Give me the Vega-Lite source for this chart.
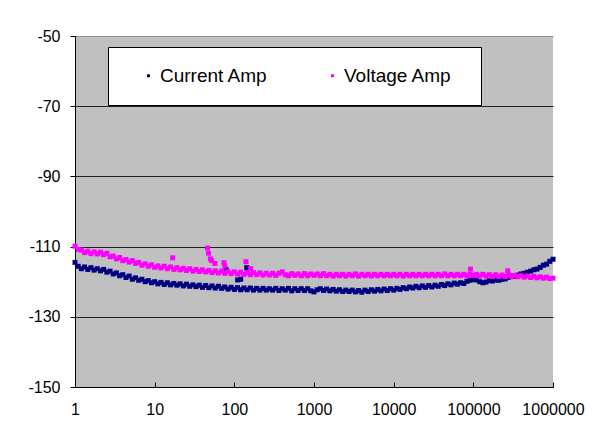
{
  "$schema": "https://vega.github.io/schema/vega-lite/v6.json",
  "width": 478,
  "height": 351,
  "autosize": {"type": "none"},
  "padding": {"left": 75, "top": 36, "right": 43, "bottom": 57},
  "background": "white",
  "config": {
    "font": "Liberation Sans",
    "view": {"fill": "#C0C0C0", "stroke": null}
  },
  "data": {
    "values": [
      {"f":1,"c":-114.5,"v":-109.9},
      {"f":1.096,"c":-115.6,"v":-110.8},
      {"f":1.202,"c":-116.3,"v":-111.0},
      {"f":1.318,"c":-115.8,"v":-111.7},
      {"f":1.445,"c":-116.5,"v":-111.3},
      {"f":1.585,"c":-116.0,"v":-112.0},
      {"f":1.738,"c":-116.7,"v":-111.5},
      {"f":1.905,"c":-116.3,"v":-112.1},
      {"f":2.089,"c":-116.9,"v":-111.6},
      {"f":2.291,"c":-116.5,"v":-112.3},
      {"f":2.512,"c":-117.3,"v":-111.9},
      {"f":2.754,"c":-117.0,"v":-112.9},
      {"f":3.02,"c":-117.8,"v":-112.7},
      {"f":3.311,"c":-117.5,"v":-113.5},
      {"f":3.631,"c":-118.3,"v":-113.1},
      {"f":3.981,"c":-118.0,"v":-114.0},
      {"f":4.365,"c":-118.8,"v":-113.7},
      {"f":4.786,"c":-118.4,"v":-114.4},
      {"f":5.248,"c":-119.3,"v":-114.0},
      {"f":5.754,"c":-118.9,"v":-114.8},
      {"f":6.31,"c":-119.6,"v":-114.5},
      {"f":6.918,"c":-119.3,"v":-115.3},
      {"f":7.586,"c":-120.0,"v":-114.9},
      {"f":8.318,"c":-119.7,"v":-115.6},
      {"f":9.12,"c":-120.3,"v":-115.2},
      {"f":10,"c":-120.0,"v":-115.9},
      {"f":10.96,"c":-120.6,"v":-115.5},
      {"f":12.02,"c":-120.2,"v":-116.1},
      {"f":13.18,"c":-120.8,"v":-115.6},
      {"f":14.45,"c":-120.3,"v":-116.3},
      {"f":15.85,"c":-120.9,"v":-115.8},
      {"f":17.38,"c":-120.5,"v":-116.5},
      {"f":19.05,"c":-121.0,"v":-116.0},
      {"f":20.89,"c":-120.6,"v":-116.6},
      {"f":22.91,"c":-121.2,"v":-116.2},
      {"f":25.12,"c":-120.7,"v":-116.8},
      {"f":27.54,"c":-121.3,"v":-116.3},
      {"f":30.2,"c":-120.9,"v":-117.0},
      {"f":33.11,"c":-121.4,"v":-116.5},
      {"f":36.31,"c":-121.0,"v":-117.1},
      {"f":39.81,"c":-121.6,"v":-116.6},
      {"f":43.65,"c":-121.1,"v":-117.2},
      {"f":47.86,"c":-121.7,"v":-116.8},
      {"f":52.48,"c":-121.2,"v":-117.4},
      {"f":57.54,"c":-121.8,"v":-116.9},
      {"f":63.1,"c":-121.3,"v":-117.5},
      {"f":69.18,"c":-121.9,"v":-117.0},
      {"f":75.86,"c":-121.5,"v":-117.6},
      {"f":83.18,"c":-122.1,"v":-117.1},
      {"f":91.2,"c":-121.6,"v":-117.7},
      {"f":100,"c":-122.2,"v":-117.2},
      {"f":109.6,"c":-121.7,"v":-117.8},
      {"f":120.2,"c":-122.3,"v":-117.3},
      {"f":131.8,"c":-121.8,"v":-117.9},
      {"f":144.5,"c":-122.3,"v":-117.4},
      {"f":158.5,"c":-121.8,"v":-118.0},
      {"f":173.8,"c":-122.4,"v":-117.4},
      {"f":190.5,"c":-121.9,"v":-118.0},
      {"f":208.9,"c":-122.4,"v":-117.5},
      {"f":229.1,"c":-121.9,"v":-118.1},
      {"f":251.2,"c":-122.4,"v":-117.6},
      {"f":275.4,"c":-122.0,"v":-118.1},
      {"f":302,"c":-122.4,"v":-117.6},
      {"f":331.1,"c":-121.9,"v":-118.2},
      {"f":363.1,"c":-122.5,"v":-117.6},
      {"f":398.1,"c":-122.0,"v":-117.2},
      {"f":436.5,"c":-122.4,"v":-118.0},
      {"f":478.6,"c":-121.9,"v":-118.3},
      {"f":524.8,"c":-122.6,"v":-117.7},
      {"f":575.4,"c":-122.0,"v":-118.2},
      {"f":631,"c":-122.5,"v":-117.8},
      {"f":691.8,"c":-122.0,"v":-118.3},
      {"f":758.6,"c":-122.5,"v":-117.7},
      {"f":831.8,"c":-122.0,"v":-118.3},
      {"f":912,"c":-122.6,"v":-117.8},
      {"f":1000,"c":-122.9,"v":-118.2},
      {"f":1096,"c":-122.3,"v":-117.8},
      {"f":1202,"c":-122.0,"v":-118.3},
      {"f":1318,"c":-122.5,"v":-117.7},
      {"f":1445,"c":-122.1,"v":-118.3},
      {"f":1585,"c":-122.6,"v":-117.9},
      {"f":1738,"c":-122.2,"v":-118.4},
      {"f":1905,"c":-122.7,"v":-117.9},
      {"f":2089,"c":-122.3,"v":-118.3},
      {"f":2291,"c":-122.8,"v":-117.9},
      {"f":2512,"c":-122.4,"v":-118.4},
      {"f":2754,"c":-122.8,"v":-117.9},
      {"f":3020,"c":-122.4,"v":-118.3},
      {"f":3311,"c":-122.9,"v":-117.8},
      {"f":3631,"c":-122.5,"v":-118.4},
      {"f":3981,"c":-123.0,"v":-117.9},
      {"f":4365,"c":-122.4,"v":-118.3},
      {"f":4786,"c":-122.8,"v":-117.9},
      {"f":5248,"c":-122.3,"v":-118.4},
      {"f":5754,"c":-122.7,"v":-117.9},
      {"f":6310,"c":-122.2,"v":-118.3},
      {"f":6918,"c":-122.6,"v":-117.9},
      {"f":7586,"c":-122.1,"v":-118.3},
      {"f":8318,"c":-122.5,"v":-117.9},
      {"f":9120,"c":-122.0,"v":-118.3},
      {"f":10000,"c":-122.4,"v":-117.9},
      {"f":10960,"c":-121.9,"v":-118.3},
      {"f":12020,"c":-122.2,"v":-117.9},
      {"f":13180,"c":-121.7,"v":-118.4},
      {"f":14450,"c":-122.0,"v":-117.9},
      {"f":15850,"c":-121.5,"v":-118.3},
      {"f":17380,"c":-121.8,"v":-117.9},
      {"f":19050,"c":-121.3,"v":-118.3},
      {"f":20890,"c":-121.7,"v":-117.9},
      {"f":22910,"c":-121.2,"v":-118.3},
      {"f":25120,"c":-121.6,"v":-117.9},
      {"f":27540,"c":-121.1,"v":-118.3},
      {"f":30200,"c":-121.5,"v":-117.9},
      {"f":33110,"c":-121.0,"v":-118.3},
      {"f":36310,"c":-121.3,"v":-117.9},
      {"f":39810,"c":-120.8,"v":-118.3},
      {"f":43650,"c":-121.1,"v":-117.8},
      {"f":47860,"c":-120.6,"v":-118.3},
      {"f":52480,"c":-120.9,"v":-117.9},
      {"f":57540,"c":-120.4,"v":-118.3},
      {"f":63100,"c":-120.7,"v":-117.9},
      {"f":69180,"c":-120.3,"v":-118.3},
      {"f":75860,"c":-120.5,"v":-117.9},
      {"f":83180,"c":-119.9,"v":-118.3},
      {"f":91200,"c":-119.6,"v":-117.9},
      {"f":100000,"c":-119.4,"v":-118.2},
      {"f":109600,"c":-119.5,"v":-117.9},
      {"f":120200,"c":-120.0,"v":-118.4},
      {"f":131800,"c":-120.3,"v":-117.9},
      {"f":144500,"c":-120.1,"v":-118.4},
      {"f":158500,"c":-119.7,"v":-118.0},
      {"f":173800,"c":-119.8,"v":-118.5},
      {"f":190500,"c":-119.5,"v":-118.0},
      {"f":208900,"c":-119.6,"v":-118.5},
      {"f":229100,"c":-119.3,"v":-118.1},
      {"f":251200,"c":-119.2,"v":-118.5},
      {"f":275400,"c":-118.8,"v":-118.1},
      {"f":302000,"c":-118.4,"v":-118.6},
      {"f":331100,"c":-118.5,"v":-118.2},
      {"f":363100,"c":-118.1,"v":-118.6},
      {"f":398100,"c":-117.8,"v":-118.3},
      {"f":436500,"c":-117.6,"v":-118.7},
      {"f":478600,"c":-117.3,"v":-118.4},
      {"f":524800,"c":-117.0,"v":-118.8},
      {"f":575400,"c":-116.6,"v":-118.5},
      {"f":631000,"c":-116.4,"v":-118.9},
      {"f":691800,"c":-115.9,"v":-118.6},
      {"f":758600,"c":-115.3,"v":-119.0},
      {"f":831800,"c":-115.0,"v":-118.7},
      {"f":912000,"c":-114.2,"v":-119.1},
      {"f":1000000,"c":-113.6,"v":-119.0},
      {"f":16.8,"v":-113.2},
      {"f":46,"v":-110.4},
      {"f":47.5,"v":-111.9},
      {"f":50,"v":-113.5},
      {"f":52,"v":-114.0},
      {"f":57,"v":-114.8},
      {"f":74,"v":-114.6},
      {"f":76,"v":-115.5},
      {"f":140,"v":-114.3},
      {"f":160,"v":-116.3},
      {"f":92000,"v":-116.4},
      {"f":270000,"v":-116.9},
      {"f":78.5,"c":-116.5},
      {"f":143,"c":-116.0},
      {"f":110,"c":-119.5},
      {"f":120,"c":-119.3}
    ]
  },
  "transform": [
    {"fold": ["c", "v"], "as": ["key", "value"]},
    {"filter": "isValid(datum.value)"},
    {"lookup": "key", "from": {"data": {"values": [{"key": "c", "series": "Current Amp"}, {"key": "v", "series": "Voltage Amp"}]}, "key": "key", "fields": ["series"]}}
  ],
  "mark": {"type": "point", "shape": "square", "filled": true, "size": 25, "opacity": 1},
  "encoding": {
    "x": {
      "field": "f",
      "type": "quantitative",
      "scale": {"type": "log", "domain": [1, 1000000], "nice": false},
      "axis": {
        "title": null,
        "values": [1, 10, 100, 1000, 10000, 100000, 1000000],
        "format": "d",
        "grid": false,
        "domainColor": "black",
        "tickColor": "black",
        "tickSize": -5,
        "labelPadding": 19,
        "labelFontSize": 16,
        "labelColor": "black",
        "labelFlush": false,
        "labelOverlap": false
      }
    },
    "y": {
      "field": "value",
      "type": "quantitative",
      "scale": {"domain": [-150, -50], "nice": false, "zero": false},
      "axis": {
        "title": null,
        "values": [-150, -130, -110, -90, -70, -50],
        "labelExpr": "'' + datum.value",
        "grid": true,
        "gridColor": {"condition": {"test": "datum.value == -50", "value": "#909090"}, "value": "#202020"},
        "gridOpacity": 1,
        "domainColor": "black",
        "tickColor": "black",
        "tickSize": 5,
        "labelPadding": 10,
        "labelFontSize": 16,
        "labelColor": "black"
      }
    },
    "color": {
      "field": "series",
      "type": "nominal",
      "scale": {"domain": ["Current Amp", "Voltage Amp"], "range": ["#000080", "#FF00FF"]},
      "legend": {
        "title": " ",
        "titleOrient": "right",
        "titleFontSize": 10,
        "titlePadding": 10,
        "orient": "none",
        "legendX": 33,
        "legendY": 11,
        "direction": "horizontal",
        "fillColor": "white",
        "strokeColor": "black",
        "padding": 19,
        "symbolOffset": 12,
        "symbolType": "square",
        "symbolSize": 9,
        "labelOffset": 2,
        "columnPadding": 43,
        "labelFontSize": 19,
        "labelColor": "black"
      }
    },
    "order": {"field": "key", "type": "nominal"}
  }
}
